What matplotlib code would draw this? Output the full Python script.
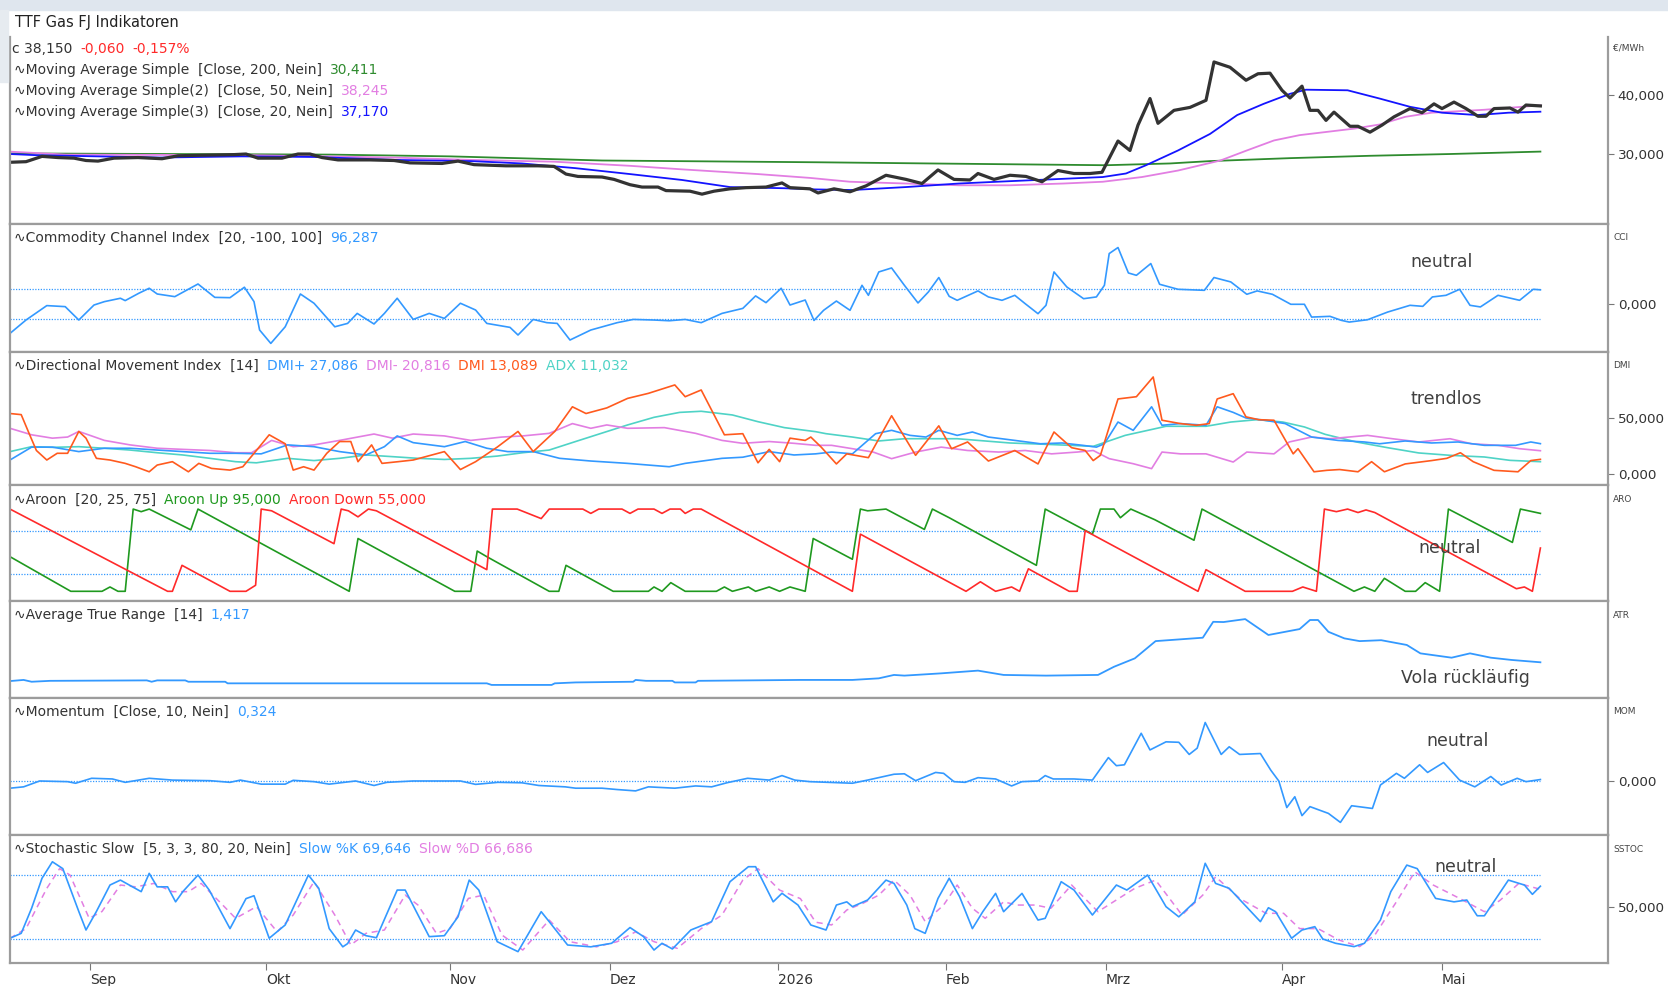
"""TTF Gas FJ Indikatoren - price panel plus six indicator panels."""
import matplotlib
matplotlib.use("Agg")
import matplotlib.pyplot as plt
from matplotlib.patches import Rectangle
from matplotlib.ticker import FuncFormatter

W, H = 1668, 986

# x = trading day index (0 = 18.08.2025)
month_idx = [10, 32, 55, 75, 96, 117, 137, 159, 179]
month_labels = ["Sep", "Okt", "Nov", "Dez", "2026", "Feb", "Mrz", "Apr", "Mai"]
last_idx = 191.3

# --- price panel (EUR/MWh)
price = [(0, 28.6), (2, 28.7), (4, 29.6), (6, 29.4), (8, 29.3), (9.5, 28.9), (11, 28.8),
         (13, 29.3), (16, 29.4), (19, 29.2), (21, 29.7), (24, 29.8), (28, 29.9), (29.5, 30.0),
         (31, 29.3), (34, 29.3), (36, 30.0), (37.5, 30.0), (39, 29.4), (41, 29.0), (45, 29.0),
         (48, 28.9), (50, 28.5), (54, 28.4), (56, 28.8), (58, 28.2), (62, 28.0), (66, 28.0),
         (68, 27.9), (69.5, 26.6), (71, 26.2), (74, 26.1), (75.5, 25.7), (77.5, 24.8),
         (79, 24.4), (81, 24.4), (82, 23.8), (85, 23.7), (86.5, 23.2), (88, 23.7), (90, 24.1),
         (92, 24.3), (94.5, 24.4), (96.5, 25.1), (97.5, 24.3), (100, 24.1), (101, 23.4),
         (103, 24.1), (105, 23.6), (107, 24.6), (109.5, 26.4), (112, 25.7), (114, 25.0),
         (116, 27.3), (118, 25.7), (120, 25.6), (121, 26.7), (123, 25.7), (125, 26.4),
         (127, 26.2), (129, 25.3), (131, 27.2), (133, 26.7), (135, 26.7), (136.5, 26.9),
         (138.5, 32.2), (140, 30.6), (141, 34.9), (142.5, 39.4), (143.5, 35.2), (145.5, 37.4),
         (147.5, 37.9), (149.5, 39.1), (150.5, 45.6), (152.5, 44.7), (154.5, 42.5), (156, 43.6),
         (157.5, 43.7), (159, 40.8), (160, 39.5), (161.5, 41.5), (162.5, 37.4), (163.5, 37.4),
         (164.5, 35.7), (165.5, 37.1), (167.5, 34.7), (168.5, 34.7), (170, 33.7), (171.5, 34.9),
         (173, 36.3), (175, 37.7), (176.5, 37.0), (178, 38.5), (179, 37.7), (180.5, 38.8),
         (182, 37.7), (183.5, 36.4), (184.5, 36.4), (185.5, 37.7), (187.5, 37.8), (188.5, 37.1),
         (189.5, 38.3), (191.3, 38.15)]
ma200 = [(0, 30.1), (40, 29.9), (55, 29.6), (66, 29.2), (74, 28.9), (92, 28.7), (101, 28.6),
         (115, 28.4), (137, 28.1), (145, 28.4), (150, 28.8), (160, 29.3), (170, 29.7),
         (180, 30.0), (191.3, 30.41)]
ma50 = [(0, 30.4), (7, 29.9), (30, 29.8), (48, 29.4), (57.6, 29.0), (68, 28.7), (77.5, 28.0),
        (84, 27.4), (93.5, 26.6), (100, 25.95), (105, 25.3), (112, 25.0), (118.6, 24.7),
        (125, 24.7), (131.7, 25.0), (136.6, 25.3), (141.5, 26.1), (146, 27.2), (151.3, 28.9),
        (154.6, 30.6), (158, 32.3), (161.2, 33.2), (168, 34.3), (171.2, 35.0), (174.4, 36.3),
        (177.7, 37.0), (184.3, 37.5), (191.3, 38.245)]
ma20 = [(0, 30.0), (3.3, 29.8), (18.8, 29.4), (29, 29.6), (38, 29.5), (48, 29.0), (57.6, 28.8),
        (64, 28.4), (70.7, 27.6), (77.5, 26.6), (84, 25.6), (88, 24.8), (90, 24.4),
        (96.8, 24.2), (100.7, 24.0), (105.3, 23.9), (112, 24.4), (118.6, 25.0), (125, 25.4),
        (131.7, 25.8), (136.6, 26.1), (139.5, 26.7), (142, 28.1), (146, 30.6), (150, 33.4),
        (153.4, 36.6), (156.7, 38.5), (160, 40.2), (162, 40.9), (167.2, 40.8), (171.2, 39.4),
        (175, 38.0), (179, 37.0), (183.4, 36.6), (187.3, 37.0), (191.3, 37.17)]

# --- Commodity Channel Index
cci = [(0, -200), (2, -109), (4.6, -11), (6.9, -18), (8.6, -109), (10.5, -7), (11.8, 16),
       (13.8, 39), (14.4, 23), (16.1, 73), (17.4, 107), (18.4, 68), (20.6, 50), (23.5, 136),
       (25.6, 45), (27.5, 43), (29.3, 114), (30.5, 16), (31.2, -177), (32.6, -268),
       (34.4, -155), (36.3, 68), (38, 5), (40.6, -155), (42.2, -132), (43.4, -64),
       (45.5, -136), (46.8, -64), (48.4, 39), (50.4, -105), (52.4, -64), (54.3, -98),
       (56.3, 5), (58.2, -41), (59.6, -132), (62.5, -159), (63.5, -211), (65.4, -105),
       (67.1, -127), (68.4, -132), (70, -245), (72.6, -177), (75.9, -127), (77.9, -105),
       (80.5, -109), (82.4, -114), (84.4, -105), (86.4, -127), (89, -64), (91.6, -30),
       (93.2, 55), (94.5, 9), (96.4, 107), (97.5, -7), (99.4, 27), (100.5, -112),
       (101.7, -43), (103.3, 20), (105, -43), (106.5, 127), (107.3, 59), (108.6, 218),
       (110.2, 245), (111.8, 127), (113.5, 7), (114.8, 82), (116.1, 180), (117.4, 52),
       (118.4, 25), (121, 89), (122.3, 48), (124, 25), (125.6, 59), (126.9, 2), (128.5, -66),
       (129.5, -9), (130.5, 218), (132.1, 116), (134.2, 36), (135.8, 48), (136.8, 127),
       (137.4, 343), (138.5, 384), (139.8, 211), (140.8, 195), (142.6, 275), (143.7, 134),
       (146, 100), (149.3, 93), (150.5, 180), (152.6, 150), (154.6, 66), (155.9, 89),
       (157.8, 66), (160.1, -2), (161.8, -2), (162.7, -89), (165, -84), (166.4, -111),
       (167.4, -123), (169.7, -107), (172.2, -55), (175, -9), (176.6, -16), (177.8, 48),
       (179.5, 59), (181.2, 100), (182.5, -9), (183.8, -20), (186, 59), (188.7, 25),
       (190.4, 100), (191.3, 96.3)]

# --- Directional Movement Index
dmi_plus = [(0, 12.5), (2.7, 24), (5.3, 24), (8.6, 20), (11.8, 23), (15, 23), (18.4, 21.4),
            (21.6, 20), (25, 18.5), (28.2, 18.5), (31.4, 18), (34.7, 26), (38, 24.4),
            (41.2, 20), (44.5, 17), (46.8, 24.4), (48.4, 34), (50.4, 28), (54.3, 24.4),
            (56.9, 29), (59.6, 23), (62.2, 20), (65.4, 20), (68.7, 14), (72.6, 11.6),
            (77.2, 9.5), (82.4, 6.5), (84.4, 9.5), (89, 14), (91.6, 15), (94.9, 20), (98, 17),
            (100.7, 18), (102.7, 19.6), (105.3, 18), (108.2, 36), (110.2, 39), (112.5, 34.5),
            (114.5, 33), (116.1, 39), (118.4, 34.5), (120.3, 37.5), (122.3, 33), (125.6, 30),
            (128.8, 27), (131.5, 27.7), (134.1, 25.6), (135.8, 24), (136.8, 27), (138.5, 46.4),
            (140.4, 39), (142.7, 60), (144, 43.5), (146.3, 45), (149.5, 43.5), (150.9, 60),
            (152.9, 55), (154.5, 50), (156.8, 48), (159.4, 45), (162.7, 33), (166, 30),
            (169.3, 28.6), (171.2, 27), (174.4, 29.5), (177.7, 27.7), (181, 28.6),
            (184.3, 25.6), (188.2, 25.6), (190.1, 28.6), (191.3, 27.1)]
dmi_minus = [(0, 40.8), (2.7, 35), (5.3, 32), (7.2, 33), (8.6, 38), (11.8, 30), (15, 26),
             (18.4, 23), (21.6, 22), (25, 21), (28.2, 19), (30.2, 19), (32.7, 30), (35.4, 24.4),
             (38, 26), (41.2, 30), (45.5, 35.7), (47.8, 32), (50.4, 35.7), (54.3, 34),
             (57.6, 30), (61.5, 33), (64.1, 34), (67.4, 36.3), (70.3, 45), (72.6, 40.8),
             (74.6, 43.8), (77.2, 40.8), (81.8, 41.4), (85.7, 36.3), (89, 30), (91.6, 27.4),
             (94.9, 29), (98, 27.4), (100.7, 25.6), (102.7, 25.6), (105.3, 22.6), (107.9, 19.6),
             (110.2, 13.7), (113.2, 19.6), (116.4, 24), (119.7, 21), (123.6, 19.6), (126.9, 21),
             (130.2, 18), (133.4, 19.6), (135.4, 21), (137.4, 13.7), (140.4, 9.2), (142.7, 4.8),
             (144, 19.6), (146.3, 18), (149.5, 18), (152.9, 10.7), (154.6, 19.6), (158, 18),
             (159.9, 28.6), (162.7, 33), (165, 31.5), (169.7, 34.5), (172.8, 31.5),
             (176.1, 28.6), (180, 31.5), (182.7, 27), (186, 25.6), (188.7, 22.6), (191.3, 20.8)]
dmi_dx = [(0, 54), (1.4, 53), (2.4, 36), (3.3, 21), (4.6, 12.5), (5.9, 18.5), (7.2, 18.5),
          (8.6, 38), (9.5, 32), (10.8, 14), (12.5, 12.5), (14.4, 9.5), (15.7, 6.5), (17.4, 2),
          (18.4, 8), (20.3, 11), (22.3, 2), (23.6, 9.5), (25.2, 5), (27.5, 3.5), (29.1, 6.5),
          (30.8, 21), (32.4, 35), (34.4, 27), (35.4, 3.5), (36.7, 6.5), (38, 3.5), (39.6, 18.5),
          (41.2, 29), (42.6, 29), (43.5, 11), (45.2, 26), (46.5, 9.5), (48.5, 11), (50.4, 12.5),
          (54.3, 20), (56.3, 4), (58.2, 11), (60.9, 24), (63.5, 38), (65.4, 20), (68.1, 38),
          (70.3, 60), (72, 54), (74.6, 59), (77.2, 67.5), (79.8, 72), (83.1, 79.5), (84.4, 69),
          (86.4, 75), (89.3, 35), (91.6, 36), (93.5, 10), (94.9, 22), (96.2, 11), (97.5, 32),
          (99.4, 30), (100.1, 33), (101.4, 24), (103.3, 9), (104.6, 18), (107.3, 14.6),
          (110.2, 52), (113.2, 16.7), (116.1, 43), (117.7, 22.6), (119.7, 28.6), (122.3, 11.6),
          (125.6, 21), (128.5, 9), (130.5, 37.5), (132.7, 23.5), (134.4, 21), (135.4, 12),
          (136.3, 16.7), (138.5, 67), (140.8, 69), (142.9, 86.6), (144, 48), (146.3, 45),
          (148.3, 43.5), (149.9, 45), (150.9, 67), (152.9, 71.7), (154.5, 51), (156.1, 48.5),
          (158, 48), (160.4, 18), (161, 22.6), (163, 2), (164.6, 3.3), (166.2, 4), (168.5, 2),
          (170.2, 11), (171.8, 2), (174.4, 9), (177.7, 12), (179.6, 14), (181.3, 19),
          (182.9, 11), (185.5, 3.3), (188.5, 2), (190.1, 12), (191.3, 13.1)]
adx = [(0, 20), (2.7, 24.4), (5.3, 23.8), (8.6, 24.4), (11.8, 23), (15, 21.4), (18.4, 19),
       (21.6, 17), (25, 14), (28.2, 11), (30.8, 10), (34.7, 14), (38, 12), (41.2, 14),
       (44.5, 17), (47.8, 15.5), (51, 14), (54.3, 13), (57.6, 14), (60.9, 16), (64.1, 19),
       (67.4, 21.4), (70.7, 29), (73.9, 36.3), (77.2, 43.8), (80.5, 50.6), (83.7, 55),
       (86.4, 56), (90.3, 52.7), (93.5, 46.7), (96.8, 41.4), (100.7, 37.8), (102, 36),
       (105.3, 33), (108.6, 29.5), (111.8, 31.5), (118.4, 31.5), (125, 27.7), (129.5, 26.5),
       (135.4, 24.7), (139.4, 34.5), (144.5, 42.6), (149.5, 42.6), (152.6, 46.4), (155.9, 48.5),
       (159.1, 46.4), (161.8, 42), (164.4, 35.4), (168.3, 28.6), (172.2, 23.5), (176.1, 18.8),
       (180, 16.7), (184.3, 15.2), (187.5, 12.2), (191.3, 11.0)]

# --- Aroon
aroon_up = [(0, 45), (7.6, 5), (11.5, 5), (12.5, 10), (13.5, 5), (14.4, 5), (15.4, 100),
            (16.4, 97), (17.4, 100), (22.6, 76), (23.5, 100), (42.4, 5), (43.5, 66), (55.6, 5),
            (57.6, 5), (58.4, 51.5), (59.6, 45), (67.4, 5), (68.6, 5), (69.5, 35), (75.4, 5),
            (79.8, 5), (80.5, 10), (81.5, 5), (82.6, 15), (84.4, 5), (88.3, 5), (89.3, 10),
            (90.3, 5), (92.3, 10), (93.2, 5), (94.9, 10), (96.2, 5), (97.5, 10), (99.4, 5),
            (100.4, 66), (105.3, 42), (106.3, 100), (107.2, 98), (109.5, 100), (114.3, 76.5),
            (115.3, 100), (117.4, 90), (128.3, 35), (129.4, 100), (135.3, 71), (136.3, 100),
            (138, 100), (138.8, 90), (140.1, 100), (143.1, 87.7), (148, 64), (149, 100),
            (168, 5), (169.3, 10), (170.6, 5), (171.8, 20), (174.4, 5), (175.7, 5),
            (176.9, 15), (178.7, 5), (179.8, 100), (187.8, 61.5), (188.8, 100), (191.3, 95)]
aroon_down = [(0, 100), (19.7, 5), (20.3, 5), (21.5, 35), (27.5, 5), (29.5, 5), (30.7, 12),
              (31.4, 100), (32.7, 98), (40.5, 60), (41.4, 100), (42.3, 98), (43.5, 91),
              (44.8, 100), (45.8, 98), (59.6, 30), (60.3, 100), (63.4, 100), (66.4, 89),
              (67.4, 100), (71.6, 100), (72.6, 95), (73.6, 100), (76.5, 100), (77.5, 95),
              (78.5, 100), (80.5, 100), (81.5, 95), (82.5, 100), (83.8, 100), (84.4, 95),
              (85.4, 100), (86.4, 100), (105.3, 5), (106.3, 71), (119.5, 5), (121.3, 16),
              (123.2, 5), (125.2, 10), (126.2, 5), (127.3, 31), (132.4, 5), (133.4, 5),
              (134.4, 75), (148.5, 5), (149.5, 30), (154.4, 5), (160.3, 5), (161.6, 10),
              (163.3, 5), (164.3, 100), (165.8, 97), (167.2, 100), (168.5, 96), (169.5, 99),
              (170.6, 96), (188.3, 8), (189.3, 10), (190.3, 5), (191.3, 55)]

# --- Average True Range
atr = [(0, 0.59), (1.7, 0.64), (2.7, 0.56), (5, 0.6), (17.1, 0.62), (17.7, 0.56), (18.4, 0.62),
       (21.9, 0.62), (22.3, 0.56), (26.9, 0.56), (27.2, 0.49), (59.6, 0.49), (60.2, 0.42),
       (67.7, 0.42), (68.1, 0.49), (70.7, 0.53), (77.9, 0.56), (78.2, 0.64), (79.5, 0.6),
       (82.8, 0.6), (83.1, 0.53), (85.7, 0.53), (86, 0.6), (98.75, 0.64), (105.3, 0.64),
       (108.6, 0.71), (110.5, 0.86), (111.8, 0.83), (116.4, 0.93), (121, 1.05), (124.2, 0.86),
       (129.5, 0.83), (136, 0.86), (138, 1.22), (140.6, 1.59), (143.2, 2.35), (149.1, 2.5),
       (150.4, 3.2), (151.7, 3.19), (154.4, 3.32), (157.3, 2.62), (161.2, 2.88), (162.5, 3.28),
       (163.5, 3.28), (164.8, 2.76), (166.8, 2.47), (168.7, 2.35), (171.4, 2.39), (174.6, 2.18),
       (176.3, 1.81), (180.2, 1.62), (182.5, 1.81), (185.1, 1.62), (187.7, 1.52), (191.3, 1.417)]

# --- Momentum
mom = [(0, -1.6), (1.7, -1.3), (3.7, 0), (7.2, -0.15), (8.2, -0.5), (10.2, 0.6), (12.8, 0.45),
       (14.4, -0.3), (17.4, 0.6), (20.3, 0.2), (25, 0.07), (27.5, -0.3), (28.8, 0.2),
       (31.4, -0.7), (34.4, -0.7), (35.4, 0.15), (38, -0.15), (39.9, -0.7), (43.2, 0),
       (45.5, -1.0), (47.1, -0.3), (50.4, 0), (56.3, 0), (58.2, -0.75), (61, -0.3), (64, -0.4),
       (66.1, -1.0), (69.4, -1.3), (70.7, -1.6), (74, -1.6), (75.9, -1.9), (78.2, -2.2),
       (79.8, -1.3), (83.1, -1.6), (85.7, -1.1), (87.7, -1.3), (89.6, -0.4), (92.2, 0.6),
       (94.9, 0.2), (96.5, 1.2), (98.1, 0.2), (100, -0.15), (105.3, -0.5), (107.2, 0.2),
       (110.5, 1.5), (111.8, 1.6), (113.2, 0.07), (115.7, 1.9), (116.7, 1.7), (118, -0.15),
       (119.4, -0.3), (121, 0.74), (123.2, 0.45), (125.2, -1.1), (126.5, -0.15), (128.5, 0),
       (129.4, 1.2), (130.4, 0.45), (133, 0.45), (135.3, 0.2), (137.3, 5.2), (138.3, 3.4),
       (139.3, 3.6), (141.4, 10.6), (142.5, 6.9), (144.5, 8.7), (146.1, 8.6), (147.4, 5.9),
       (148.4, 7.3), (149.4, 13.0), (151.4, 5.9), (152.4, 7.6), (153.7, 5.9), (156.3, 6.1),
       (157.6, 2.4), (158.6, 0), (159.6, -5.9), (160.6, -3.5), (161.5, -7.7), (162.5, -5.7),
       (164.8, -7.2), (166.3, -9.2), (167.7, -5.5), (170.3, -6.1), (171.3, -0.9), (173.3, 1.7),
       (174.3, 0.6), (176.2, 3.6), (177.2, 1.9), (179.2, 4.1), (181.2, 0.2), (183.1, -1.3),
       (185.1, 1.0), (186.4, -0.9), (188.4, 0.6), (189.5, -0.15), (191.3, 0.324)]

# --- Stochastic Slow
stoch_k = [(0, 21), (1.4, 25.6), (2.7, 49), (4, 77), (5.3, 92.4), (6.6, 86), (8.6, 46),
           (9.5, 28.7), (10.8, 46), (12.5, 70.7), (13.8, 75.3), (16.4, 64.5), (17.4, 81.6),
           (18.4, 69), (19.7, 69), (20.7, 55), (21.6, 64.5), (23.5, 80), (24.9, 66), (27.5, 30),
           (29.5, 58), (30.5, 60.7), (32.4, 21), (34.4, 33.4), (37.3, 80), (38.6, 67.6),
           (39.9, 30), (41.6, 13), (42.2, 16), (43.2, 28.7), (44.5, 23.4), (45.8, 21.5),
           (48.4, 66), (49.4, 66), (52.4, 22.5), (54.3, 23.4), (56, 41), (57.4, 75.3),
           (58.6, 66), (60.9, 17.8), (63.5, 8.5), (66.4, 45.8), (67.4, 36.5), (69.7, 14.7),
           (72.6, 13), (75.2, 16.3), (77.5, 31), (79.2, 22.5), (80.5, 10), (81.5, 16.3),
           (82.8, 11), (85.1, 28.7), (87.7, 36.5), (90, 73.8), (92.3, 87.8), (93.2, 87.8),
           (95.4, 55), (96.5, 63), (98.5, 52), (100.1, 33.4), (102, 28.7), (103.3, 52),
           (104.6, 55), (105.3, 50.5), (107.2, 56.7), (109.5, 75.3), (110.5, 72.2), (112.1, 52),
           (113.1, 30), (114.4, 25.6), (116, 58.2), (117.4, 77), (118.7, 59.8), (120.3, 30),
           (121.6, 45.8), (123.2, 62.9), (124.2, 45.8), (126.5, 62.9), (128.5, 38),
           (129.4, 39.6), (131.4, 73.8), (133, 66), (135.3, 42.7), (138.3, 70.7), (139.6, 66),
           (142.2, 80), (144.5, 50.5), (146.1, 41), (148.1, 55), (149.4, 91), (150.7, 72.2),
           (152.4, 67.6), (156.3, 36.5), (157.3, 49.5), (158.2, 45.8), (160.2, 21),
           (161.5, 28.7), (163.1, 31.8), (164.1, 20.3), (165.7, 16.3), (168, 13.2),
           (169.3, 16.3), (171.3, 38), (172.6, 64.5), (174.6, 89.3), (175.9, 86), (178.2, 58.2),
           (180.5, 55), (182.1, 56.7), (183.4, 42), (184.3, 42), (187.3, 75.3), (189.3, 70.7),
           (190.3, 62), (191.3, 69.6)]
stoch_d = [(0, 21), (2, 30), (4.6, 67.6), (6.2, 86), (7.5, 80), (9.9, 39.6), (11.5, 46),
           (13.8, 70.7), (15.7, 69), (18, 72.2), (20.3, 64.5), (22.3, 64.5), (23.9, 72.2),
           (26.2, 55), (28.2, 39.6), (30.8, 50.5), (33.4, 27), (35.4, 42.7), (38, 73.8),
           (40.6, 42.7), (42.6, 14.7), (44.5, 25.6), (46.8, 28.7), (49.4, 61.3), (51, 52),
           (53.3, 25.6), (55, 30), (57.3, 58.2), (59.2, 61.3), (61.5, 24), (64.1, 10),
           (67.4, 38), (70, 17.8), (73.3, 13), (75.9, 17.8), (78.2, 27), (80.5, 17.8),
           (83.4, 11.6), (86.4, 30), (89, 42.7), (91.6, 75.3), (93.5, 86), (96.2, 66),
           (98.8, 58), (100.7, 36), (102.7, 33.4), (104.6, 47.4), (106.6, 53.6), (108.6, 61.3),
           (110.5, 75.3), (112.5, 61.3), (114.4, 36.5), (116.7, 52), (118.4, 70.7), (120.3, 49),
           (121.9, 39.6), (124.2, 55), (125.9, 52), (128.2, 52), (130.1, 49), (132.7, 70.7),
           (136, 45.8), (138.6, 58.2), (140.6, 67.6), (143.2, 75.3), (146.5, 42.7),
           (149.1, 61.3), (150.7, 78.4), (153.7, 58.2), (157, 44.3), (159.2, 44.3), (161.2, 30),
           (163.5, 30), (166.1, 19.4), (168.7, 13.2), (170.6, 24), (173.3, 55), (175.6, 83),
           (177.9, 70.7), (181.2, 58.2), (184.3, 45.8), (186.3, 56.7), (188.6, 72.2),
           (191.3, 66.7)]

DARK = "#333333"
BLUE = "#3399ff"
VIOLET = "#e27ee2"
GREEN = "#2e8b2e"
RED = "#ff2a2a"
ORANGE = "#ff5a1e"
TEAL = "#4fd3c6"
FRAME = "#9c9c9c"

fig = plt.figure(figsize=(W / 100, H / 100), dpi=100)
fig.patch.set_facecolor("white")
fig.patches.append(Rectangle((0, 1 - 10 / H), 1, 10 / H, transform=fig.transFigure,
                             color="#dfe6ee", zorder=0))
fig.patches.append(Rectangle((0, 1 - 82 / H), 8 / W, 72 / H, transform=fig.transFigure,
                             color="#e6ebf0", zorder=0))


def de_fmt(v, _pos=None):
    return f"{v:,.3f}".replace(",", " ").replace(".", ",")


def panel(top, bottom, ylim, yticks):
    ax = fig.add_axes([10 / W, 1 - bottom / H, 1598 / W, (bottom - top) / H])
    ax.set_xlim(0, 199.75)
    ax.set_ylim(*ylim)
    for s in ax.spines.values():
        s.set_color(FRAME)
        s.set_linewidth(1.6)
    ax.yaxis.tick_right()
    ax.set_yticks(yticks)
    ax.yaxis.set_major_formatter(FuncFormatter(de_fmt))
    ax.tick_params(axis="y", direction="out", length=4, width=0.8, color="#777777",
                   labelsize=9.7, labelcolor=DARK, pad=3)
    ax.set_xticks([])
    return ax


def line(ax, pts, **kw):
    xs, ys = zip(*pts)
    ax.plot(xs, ys, solid_joinstyle="round", **kw)


def dotted(ax, levels):
    ax.hlines(levels, 0, last_idx, colors=BLUE, linestyles=(0, (1, 1.2)), linewidth=0.9)


ax1 = panel(37, 224, (18.14, 49.83), [30, 40])
ax1.spines["top"].set_visible(False)
line(ax1, ma200, color=GREEN, lw=1.3)
line(ax1, ma50, color=VIOLET, lw=1.3)
line(ax1, ma20, color="#1414ff", lw=1.3)
line(ax1, price, color="#333333", lw=2.3)

ax2 = panel(224, 352, (-326.5, 544), [0])
dotted(ax2, [-100, 100])
line(ax2, cci, color=BLUE, lw=1.2)

ax3 = panel(352, 485, (-9.8, 108.9), [0, 50])
line(ax3, adx, color=TEAL, lw=1.2)
line(ax3, dmi_minus, color=VIOLET, lw=1.2)
line(ax3, dmi_plus, color=BLUE, lw=1.2)
line(ax3, dmi_dx, color=ORANGE, lw=1.2)

ax4 = panel(485, 601, (-6.2, 127.8), [])
dotted(ax4, [25, 75])
line(ax4, aroon_up, color="#1f991f", lw=1.2)
line(ax4, aroon_down, color=RED, lw=1.2)

ax5 = panel(601, 698, (-0.156, 4.117), [])
line(ax5, atr, color=BLUE, lw=1.3)

ax6 = panel(698, 835, (-12.0, 18.44), [0])
dotted(ax6, [0])
line(ax6, mom, color=BLUE, lw=1.2)

ax7 = panel(835, 963, (-2.1, 117.4), [50])
dotted(ax7, [20, 80])
line(ax7, stoch_d, color=VIOLET, lw=1.1, ls=(0, (4, 3)))
line(ax7, stoch_k, color=BLUE, lw=1.2)
ax7.set_xticks(month_idx)
ax7.set_xticklabels(month_labels, ha="left")
ax7.tick_params(axis="x", direction="out", length=5, width=0.8, color="#777777",
                labelsize=10, labelcolor=DARK, pad=2)

# header lines with coloured values
renderer = fig.canvas.get_renderer()


def header(y_px, parts, x_px=14, size=10):
    x = x_px
    for txt, col in parts:
        t = fig.text(x / W, 1 - y_px / H, txt, color=col, fontsize=size,
                     ha="left", va="center")
        x = t.get_window_extent(renderer).x1 + 8


fig.text(15 / W, 1 - 22 / H, "TTF Gas FJ Indikatoren", fontsize=10.5, color="#222222",
         ha="left", va="center")
header(49, [("c 38,150", DARK), ("-0,060", RED), ("-0,157%", RED)], x_px=12)
header(70, [("∿Moving Average Simple  [Close, 200, Nein]", DARK), ("30,411", GREEN)])
header(91, [("∿Moving Average Simple(2)  [Close, 50, Nein]", DARK), ("38,245", VIOLET)])
header(112, [("∿Moving Average Simple(3)  [Close, 20, Nein]", DARK), ("37,170", "#1414ff")])
header(238, [("∿Commodity Channel Index  [20, -100, 100]", DARK), ("96,287", BLUE)])
header(366, [("∿Directional Movement Index  [14]", DARK), ("DMI+ 27,086", BLUE),
             ("DMI- 20,816", VIOLET), ("DMI 13,089", ORANGE), ("ADX 11,032", TEAL)])
header(500, [("∿Aroon  [20, 25, 75]", DARK), ("Aroon Up 95,000", "#1f991f"),
             ("Aroon Down 55,000", RED)])
header(615, [("∿Average True Range  [14]", DARK), ("1,417", BLUE)])
header(712, [("∿Momentum  [Close, 10, Nein]", DARK), ("0,324", BLUE)])
header(849, [("∿Stochastic Slow  [5, 3, 3, 80, 20, Nein]", DARK), ("Slow %K 69,646", BLUE),
             ("Slow %D 66,686", VIOLET)])

# short panel names on the right
for y_px, name in [(48, "€/MWh"), (238, "CCI"), (366, "DMI"), (499, "ARO"), (615, "ATR"),
                   (712, "MOM"), (849, "SSTOC")]:
    fig.text(1613 / W, 1 - y_px / H, name, fontsize=6.5, color="#444444",
             ha="left", va="center")

# analyst notes
for xc, yc, note in [(1442, 262, "neutral"), (1446, 399, "trendlos"), (1450, 548, "neutral"),
                     (1465, 678, "Vola rückläufig"), (1458, 741, "neutral"),
                     (1466, 867, "neutral")]:
    fig.text(xc / W, 1 - yc / H, note, fontsize=12.5, color="#404040",
             ha="center", va="center")

fig.savefig("out.png", dpi=100)
